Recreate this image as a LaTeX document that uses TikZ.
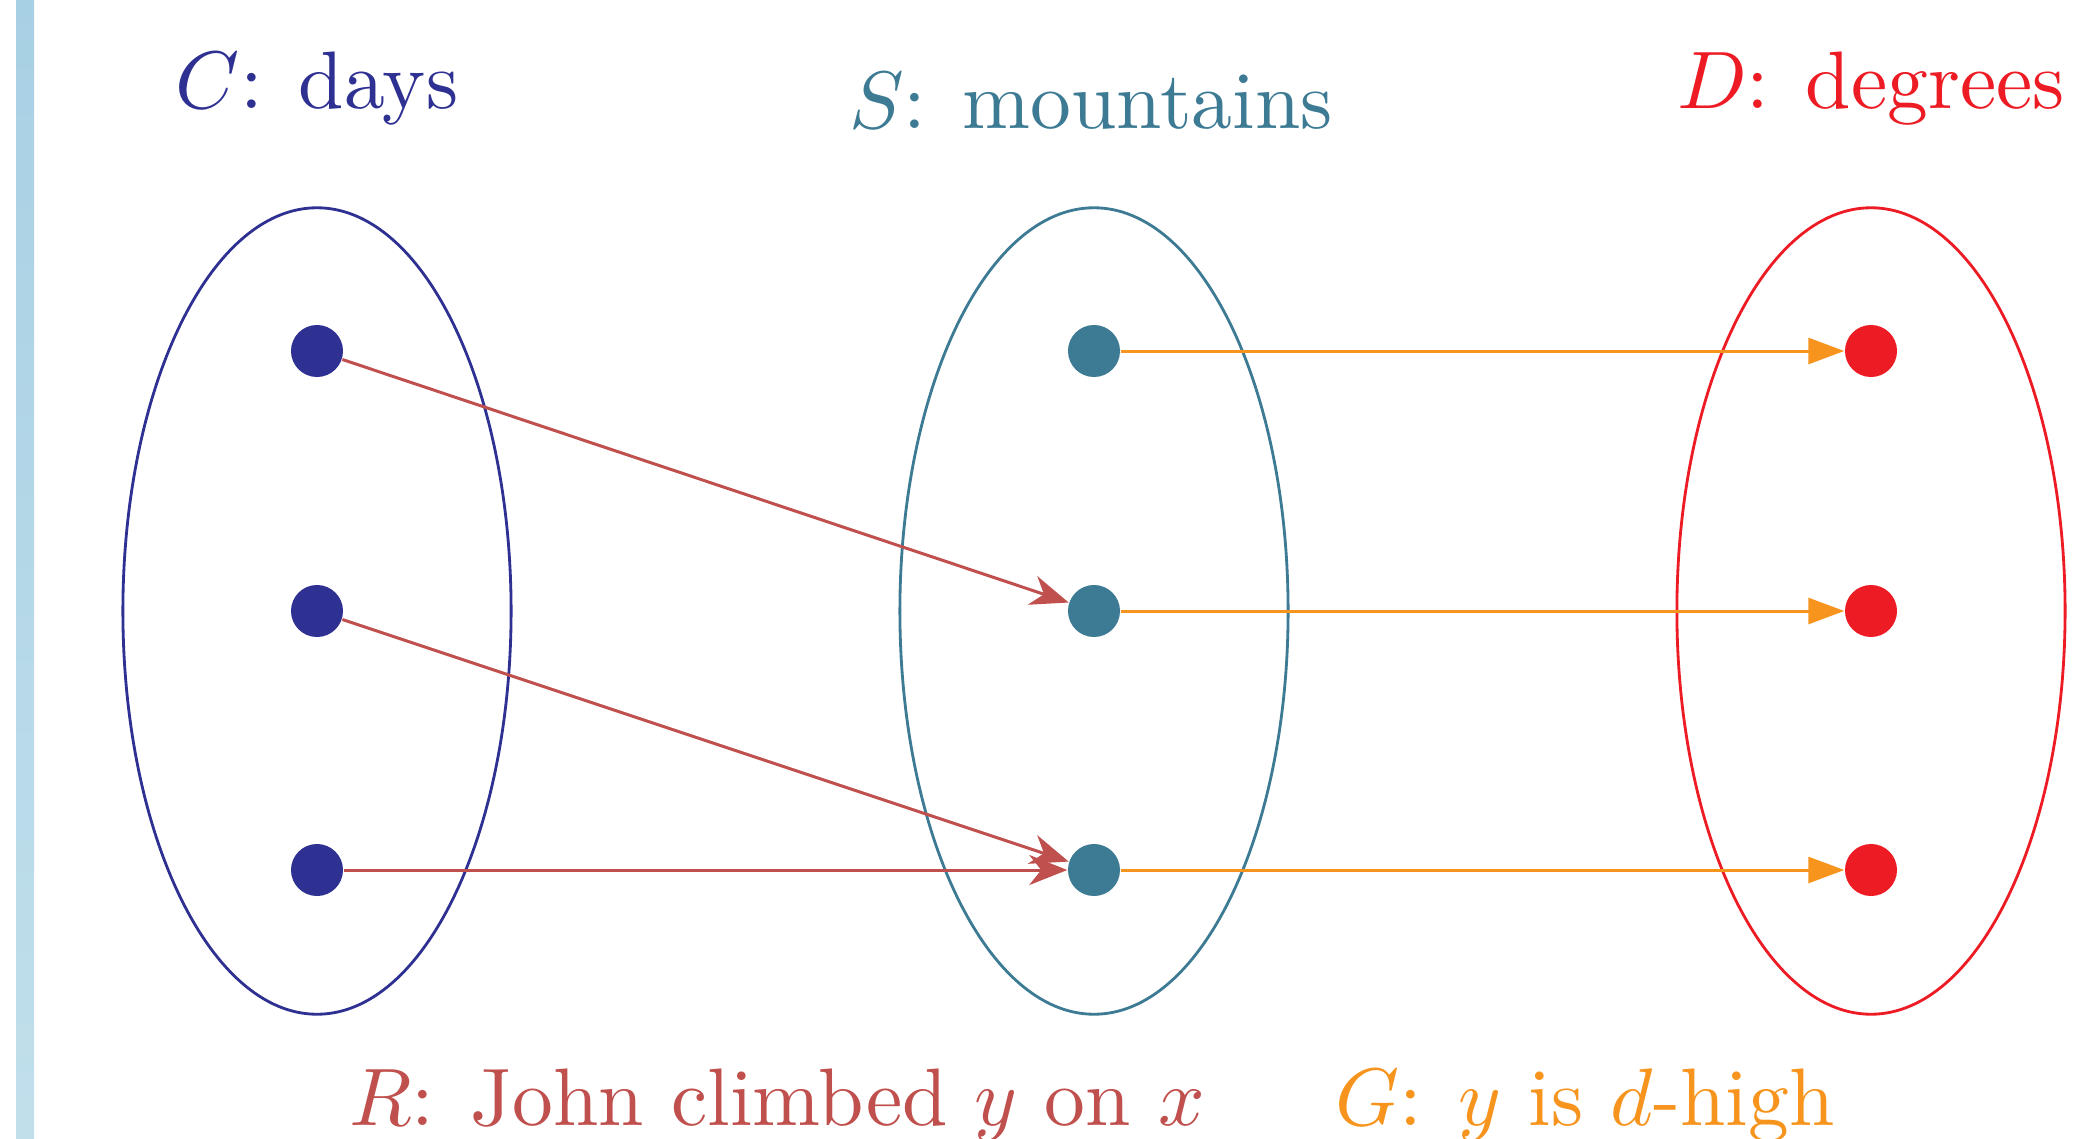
\documentclass[tikz,border=0pt]{standalone}
\usetikzlibrary{arrows.meta,positioning}
\definecolor{daysblue}{RGB}{46,49,146}
\definecolor{mountteal}{RGB}{61,122,147}
\definecolor{degred}{RGB}{237,28,36}
\definecolor{climbred}{RGB}{192,80,77}
\definecolor{highorange}{RGB}{247,148,29}
\definecolor{barblue}{RGB}{168,208,228}
\definecolor{barlight}{RGB}{193,223,235}
\newcommand{\setlabel}[1]{\scalebox{2.32}{#1}}

\begin{document}
\begin{tikzpicture}[x=0.01cm,y=-0.01cm,
  dot/.style={circle,fill=#1,inner sep=0pt,minimum size=0.52cm},
  set/.style={draw=#1,line width=0.8pt},
  lbl/.style={text=#1,inner sep=0pt,anchor=base},
  climb/.style={climbred,line width=0.85pt,-{Stealth[length=3.8mm,width=3mm,inset=1.2mm]}},
  high/.style={highorange,line width=0.85pt,-{Triangle[length=3.6mm,width=2.6mm]}}]
  \useasboundingbox (0,0) rectangle (2087,1139);
  % barra lateral
  \shade[top color=barblue,bottom color=barlight] (16,0) rectangle (34,1139);
  % conjuntos C, S, D
  \draw[set=daysblue]  (317,611)  ellipse [x radius=1.94cm,y radius=4.03cm];
  \draw[set=mountteal] (1094,611) ellipse [x radius=1.94cm,y radius=4.03cm];
  \draw[set=degred]    (1871,611) ellipse [x radius=1.94cm,y radius=4.03cm];
  % titulos
  \node[lbl=daysblue]  (ctitle) at (317,108)  {\setlabel{$C$: days}};
  \node[lbl=mountteal] (stitle) at (1091,128) {\setlabel{$S$: mountains}};
  \node[lbl=degred]    (dtitle) at (1871,108) {\setlabel{$D$: degrees}};
  % elementos
  \node[dot=daysblue]  (c1) at (317,351) {};
  \node[dot=daysblue]  (c2) at (317,611) {};
  \node[dot=daysblue]  (c3) at (317,870) {};
  \node[dot=mountteal] (s1) at (1094,351) {};
  \node[dot=mountteal] (s2) at (1094,611) {};
  \node[dot=mountteal] (s3) at (1094,870) {};
  \node[dot=degred]    (d1) at (1871,351) {};
  \node[dot=degred]    (d2) at (1871,611) {};
  \node[dot=degred]    (d3) at (1871,870) {};
  % relacion R
  \draw[climb] (c1) -- (s2);
  \draw[climb] (c2) -- (s3);
  \draw[climb] (c3) -- (s3);
  % funcion G
  \draw[high] (s1) -- (d1);
  \draw[high] (s2) -- (d2);
  \draw[high] (s3) -- (d3);
  % leyendas
  \node[lbl=climbred]   (rlabel) at (777,1125)  {\setlabel{$R$: John climbed $y$ on $x$}};
  \node[lbl=highorange] (glabel) at (1585,1125) {\setlabel{$G$: $y$ is $d$-high}};
\end{tikzpicture}
\end{document}
